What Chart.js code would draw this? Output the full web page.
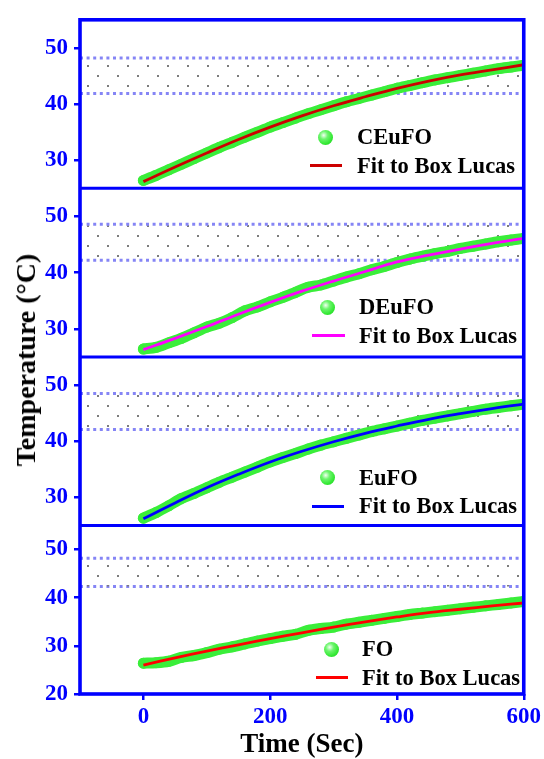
<!DOCTYPE html>
<html>
<head>
<meta charset="utf-8">
<script src="https://cdn.jsdelivr.net/npm/chart.js@4.4.1/dist/chart.umd.min.js"></script>
<style>
  html, body { margin: 0; padding: 0; background: #fff; }
  #wrap { position: relative; width: 544px; height: 759px; overflow: hidden; }
  #plot { position: absolute; left: 0; top: 0; }
  .txt { position: absolute; font: bold 22.5px 'Liberation Serif', 'Times New Roman', serif; color: #000;
         white-space: nowrap; line-height: 1; }
  .ball { position: absolute; width: 15px; height: 15px; border-radius: 50%;
          background: radial-gradient(circle at 38% 35%, #f2fff2 0%, #6cf56c 30%, #33e833 65%, #22c422 100%); }
  .seg { position: absolute; height: 3px; }
  #ytitle { position: absolute; left: 26px; top: 360px; transform: translate(-50%, -50%) rotate(-90deg);
            font: bold 28px 'Liberation Serif', 'Times New Roman', serif; color: #000; white-space: nowrap; }
</style>
</head>
<body>
<div id="wrap">
  <canvas id="plot" width="544" height="759"></canvas>
  <div id="ytitle">Temperature (°C)</div>
</div>
<script>
// ---- measured series (temperature in °C vs time in s) ----
const sampleTimes = [0, 20, 40, 60, 80, 100, 120, 140, 160, 180, 200, 220, 240, 260, 280, 300,
                     320, 340, 360, 380, 400, 420, 440, 460, 480, 500, 520, 540, 560, 580, 600];
const ceufoData = [26.4, 27.3, 28.3, 29.3, 30.3, 31.3, 32.3, 33.2, 34.1, 35.0, 35.9, 36.7, 37.5, 38.3, 39.0, 39.7,
                   40.4, 41.0, 41.6, 42.2, 42.8, 43.3, 43.8, 44.3, 44.7, 45.1, 45.5, 45.9, 46.3, 46.6, 46.9];
const deufoData = [26.4, 26.7, 27.5, 28.3, 29.3, 30.3, 31.0, 32.0, 33.2, 33.9, 34.8, 35.6, 36.5, 37.4, 37.8, 38.5,
                   39.2, 39.8, 40.5, 41.1, 41.8, 42.4, 42.9, 43.4, 43.8, 44.3, 44.7, 45.1, 45.5, 45.8, 46.1];
const eufoData  = [26.3, 27.3, 28.5, 29.8, 30.7, 31.7, 32.7, 33.6, 34.5, 35.4, 36.3, 37.1, 37.8, 38.6, 39.3, 39.9,
                   40.5, 41.1, 41.7, 42.2, 42.7, 43.2, 43.7, 44.1, 44.5, 44.9, 45.3, 45.7, 46.0, 46.3, 46.6];
const foData    = [26.4, 26.5, 26.8, 27.6, 28.0, 28.6, 29.3, 29.8, 30.4, 31.0, 31.5, 32.0, 32.4, 33.2, 33.6, 33.9,
                   34.5, 34.9, 35.3, 35.7, 36.1, 36.5, 36.8, 37.1, 37.4, 37.7, 38.0, 38.3, 38.6, 38.9, 39.2];

// ---- Box Lucas fit curves ----
const fitTimes = [0, 50, 100, 150, 200, 250, 300, 350, 400, 450, 500, 550, 600];
const ceufoFit = [26.2, 28.8, 31.3, 33.7, 35.9, 37.9, 39.7, 41.3, 42.8, 44.1, 45.2, 46.1, 47.0];
const deufoFit = [26.3, 28.3, 30.4, 32.6, 34.7, 36.7, 38.5, 40.2, 41.9, 43.1, 44.2, 45.2, 46.1];
const eufoFit  = [26.2, 29.0, 31.7, 34.1, 36.3, 38.2, 39.9, 41.4, 42.7, 43.9, 44.9, 45.8, 46.6];
const foFit    = [26.0, 27.5, 28.9, 30.2, 31.5, 32.7, 33.9, 35.0, 36.0, 36.9, 37.6, 38.3, 38.9];

// ---- shaded hyperthermia window per panel ----
const bandTimes  = [-100, 600];
const bandTop    = [48.2, 48.6, 48.5, 48.2];
const bandBottom = [41.9, 42.2, 42.1, 42.3];

// ---- axes ----
const xRange = [-100, 600];
const xTicks = [0, 200, 400, 600];
const yRanges = [[25, 55], [25, 55], [25, 55], [20, 55]];
const yTickSets = [[30, 40, 50], [30, 40, 50], [30, 40, 50], [20, 30, 40, 50]];

const seriesNames = ['CEuFO', 'DEuFO', 'EuFO', 'FO'];
const fitLabel = 'Fit to Box Lucas';
const dataSets = [ceufoData, deufoData, eufoData, foData];
const fitSets = [ceufoFit, deufoFit, eufoFit, foFit];

// styling
const BLUE = '#0000ff';
const GREEN = '#3aee3a';
const fitColors = ['#cc0000', '#ff00ff', '#0000ff', '#ff0000'];
const axisIds = ['y1', 'y2', 'y3', 'y4'];
const SERIF = "'Liberation Serif', 'Times New Roman', serif";

// legend placement inside each panel (px)
const legendPos = [
  { ball: [325, 137], seg: [310, 342, 165], tx: 357, rows: [137, 166] },
  { ball: [327, 307], seg: [312, 345, 335], tx: 359, rows: [307, 336] },
  { ball: [327, 477], seg: [312, 344, 506], tx: 359, rows: [478, 506] },
  { ball: [331, 649], seg: [316, 348, 677], tx: 362, rows: [649, 678] }
];

const ctx = document.getElementById('plot').getContext('2d');

// dotted fill for the temperature window
const tile = document.createElement('canvas');
tile.width = 20; tile.height = 20;
const tctx = tile.getContext('2d');
tctx.fillStyle = '#7c7c7c';
tctx.fillRect(7, 5, 2, 2);
tctx.fillRect(17, 15, 2, 2);
const dotPattern = ctx.createPattern(tile, 'repeat');

const pts = (xs, ys) => xs.map((x, i) => ({ x, y: ys[i] }));

const datasets = [];
for (let p = 0; p < 4; p++) {
  const yAxisID = axisIds[p];
  datasets.push({
    data: pts(fitTimes, fitSets[p]), yAxisID, order: 0,
    borderColor: fitColors[p], borderWidth: 2.8, pointRadius: 0, tension: 0.4, fill: false
  });
  datasets.push({
    data: pts(sampleTimes, dataSets[p]), yAxisID, order: 1,
    borderColor: GREEN, borderWidth: 11, borderCapStyle: 'round', borderJoinStyle: 'round',
    pointRadius: 5.5, pointBackgroundColor: GREEN, pointBorderWidth: 0, tension: 0.3, fill: false
  });
  datasets.push({
    data: pts(bandTimes, [bandTop[p], bandTop[p]]), yAxisID, order: 2,
    borderColor: '#8585f5', borderWidth: 3, borderDash: [3, 3.6], pointRadius: 0,
    fill: '+1', backgroundColor: dotPattern
  });
  datasets.push({
    data: pts(bandTimes, [bandBottom[p], bandBottom[p]]), yAxisID, order: 2,
    borderColor: '#8585f5', borderWidth: 3, borderDash: [3, 3.6], pointRadius: 0, fill: false
  });
}

function yAxis(p) {
  return {
    type: 'linear', position: 'left', stack: 'panels', stackWeight: 1,
    min: yRanges[p][0], max: yRanges[p][1],
    afterBuildTicks: s => { s.ticks = yTickSets[p].map(v => ({ value: v })); },
    afterFit: s => { s.width = 80; },
    grid: { display: true, drawOnChartArea: false, drawTicks: true, tickLength: 6, color: BLUE, lineWidth: 2.5 },
    border: { display: false },
    ticks: { color: BLUE, padding: 6, font: { family: SERIF, weight: 'bold', size: 23 } }
  };
}

// panel frame: outer box plus separators between stacked panels
const framePlugin = {
  id: 'frame',
  afterDatasetsDraw(chart) {
    const { ctx: c, chartArea: a } = chart;
    c.save();
    c.strokeStyle = BLUE;
    c.lineWidth = 3.6;
    c.strokeRect(a.left, a.top, a.right - a.left, a.bottom - a.top);
    c.lineWidth = 3;
    ['y1', 'y2', 'y3'].forEach(id => {
      const yb = chart.scales[id].bottom;
      c.beginPath(); c.moveTo(a.left, yb); c.lineTo(a.right, yb); c.stroke();
    });
    c.restore();
  }
};

new Chart(ctx, {
  type: 'line',
  data: { datasets },
  options: {
    responsive: false, animation: false, devicePixelRatio: 1, events: [],
    layout: { padding: { top: 13, right: 18, left: 0, bottom: 0 } },
    plugins: { legend: { display: false }, tooltip: { enabled: false } },
    scales: {
      x: {
        type: 'linear', position: 'bottom', min: xRange[0], max: xRange[1],
        afterBuildTicks: s => { s.ticks = xTicks.map(v => ({ value: v })); },
        afterFit: s => { s.height = 65; },
        grid: { display: true, drawOnChartArea: false, drawTicks: true, tickLength: 6, color: BLUE, lineWidth: 2.5 },
        border: { display: false },
        ticks: { color: BLUE, padding: 3, maxRotation: 0, font: { family: SERIF, weight: 'bold', size: 23 } },
        title: { display: true, text: 'Time (Sec)', color: '#000', padding: { top: 0, bottom: -2 },
                 font: { family: SERIF, weight: 'bold', size: 27 } }
      },
      // defined bottom-to-top so the first panel ends up on top of the stack
      y4: yAxis(3),
      y3: yAxis(2),
      y2: yAxis(1),
      y1: yAxis(0)
    }
  },
  plugins: [framePlugin]
});

// in-panel legends
const wrap = document.getElementById('wrap');
function add(cls, css, text) {
  const d = document.createElement('div');
  d.className = cls;
  Object.assign(d.style, css);
  if (text) d.textContent = text;
  wrap.appendChild(d);
}
legendPos.forEach((L, p) => {
  add('ball', { left: (L.ball[0] - 7.5) + 'px', top: (L.ball[1] - 7.5) + 'px' });
  add('txt', { left: L.tx + 'px', top: (L.rows[0] - 11.5) + 'px' }, seriesNames[p]);
  add('seg', { left: L.seg[0] + 'px', width: (L.seg[1] - L.seg[0]) + 'px', top: (L.seg[2] - 1.5) + 'px',
               background: fitColors[p] });
  add('txt', { left: L.tx + 'px', top: (L.rows[1] - 11.5) + 'px' }, fitLabel);
});
</script>
</body>
</html>
